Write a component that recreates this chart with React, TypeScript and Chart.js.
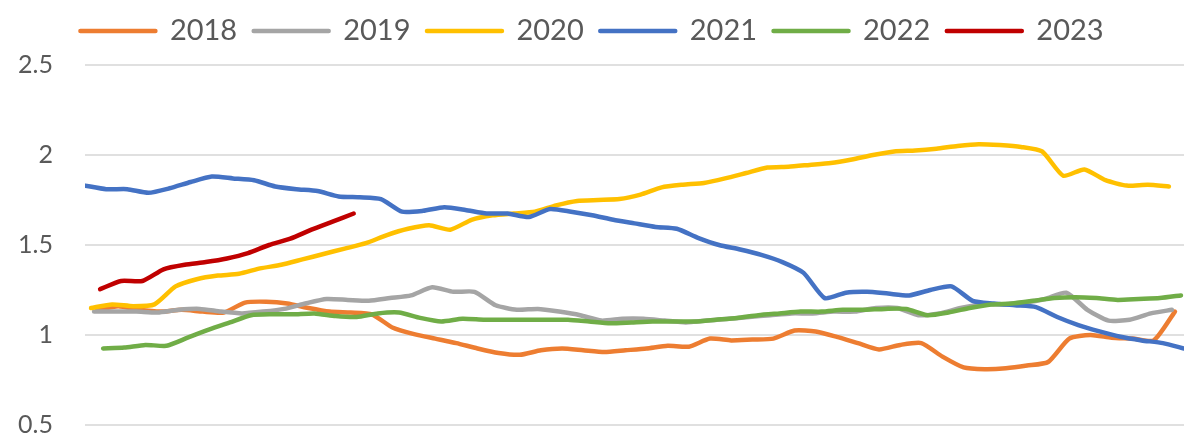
import React, { useEffect, useRef } from "react";
import { Chart, registerables } from "chart.js";

Chart.register(...registerables);

// Weekly (Friday) observations; x = day of year of each Friday
const years = ["2018", "2019", "2020", "2021", "2022", "2023"];
const firstFridayDay = [5, 4, 3, 1, 7, 6];

const y2018 = [
  1.14, 1.16, 1.14, 1.13, 1.14, 1.13, 1.125, 1.18, 1.185, 1.175, 1.15, 1.13, 1.125, 1.115,
  1.04, 1.005, 0.98, 0.955, 0.925, 0.9, 0.89, 0.915, 0.925, 0.915, 0.905, 0.915, 0.925, 0.94,
  0.935, 0.98, 0.97, 0.975, 0.98, 1.025, 1.02, 0.99, 0.955, 0.92, 0.945, 0.955, 0.88, 0.82, 0.81,
  0.815, 0.83, 0.85, 0.98, 1.0, 0.985, 0.98, 0.97, 1.13,
];
const y2019 = [
  1.13, 1.13, 1.13, 1.125, 1.14, 1.145, 1.13, 1.12, 1.13, 1.145, 1.175, 1.2, 1.195, 1.19,
  1.205, 1.22, 1.265, 1.24, 1.24, 1.165, 1.14, 1.145, 1.13, 1.11, 1.08, 1.09, 1.09, 1.08,
  1.07, 1.08, 1.09, 1.1, 1.11, 1.12, 1.12, 1.13, 1.13, 1.15, 1.15, 1.11, 1.12, 1.15, 1.17, 1.17, 1.18,
  1.2, 1.235, 1.14, 1.08, 1.085, 1.12, 1.14,
];
const y2020 = [
  1.15, 1.17, 1.16, 1.17, 1.27, 1.31, 1.33, 1.34, 1.37, 1.39, 1.42, 1.45, 1.48, 1.51,
  1.555, 1.59, 1.61, 1.585, 1.64, 1.665, 1.675, 1.685, 1.72, 1.745, 1.75, 1.755, 1.78, 1.82, 1.835,
  1.845, 1.87, 1.9, 1.93, 1.935, 1.945, 1.955, 1.975, 2.0, 2.02, 2.025, 2.035, 2.05, 2.06,
  2.055, 2.045, 2.02, 1.885, 1.92, 1.86, 1.83, 1.835, 1.825,
];
const y2021 = [
  1.83, 1.81, 1.81, 1.79, 1.815, 1.85, 1.88, 1.87, 1.86, 1.825, 1.81, 1.8, 1.77, 1.765,
  1.755, 1.685, 1.69, 1.71, 1.695, 1.675, 1.675, 1.655, 1.7, 1.685, 1.665, 1.64, 1.62, 1.6,
  1.59, 1.54, 1.5, 1.475, 1.445, 1.405, 1.345, 1.205, 1.235, 1.24, 1.23, 1.22, 1.25, 1.27,
  1.19, 1.175, 1.165, 1.155, 1.1, 1.055, 1.02, 0.99, 0.97, 0.955, 0.925,
];
const y2022 = [
  0.925, 0.93, 0.945, 0.94, 0.985, 1.03, 1.07, 1.11, 1.115, 1.115, 1.12, 1.105, 1.1, 1.12,
  1.125, 1.095, 1.075, 1.09, 1.085, 1.085, 1.085, 1.085, 1.085, 1.075, 1.065, 1.07, 1.075, 1.075,
  1.075, 1.085, 1.095, 1.11, 1.12, 1.13, 1.13, 1.14, 1.14, 1.145, 1.145, 1.11, 1.125, 1.15,
  1.17, 1.175, 1.19, 1.205, 1.21, 1.205, 1.195, 1.2, 1.205, 1.22,
];
const y2023 = [1.255, 1.3, 1.3, 1.365, 1.39, 1.405, 1.425, 1.455, 1.5, 1.535, 1.585, 1.63, 1.675];

const yTicks = [0.5, 1, 1.5, 2, 2.5];
const colors = ["#ED7D31", "#A5A5A5", "#FFC000", "#4472C4", "#70AD47", "#C00000"];

export default function App() {
  const ref = useRef<HTMLCanvasElement>(null);

  useEffect(() => {
    const series = [y2018, y2019, y2020, y2021, y2022, y2023];
    const datasets = years.map((yr, i) => ({
      label: yr,
      data: series[i].map((v, k) => ({ x: firstFridayDay[i] + 7 * k, y: v })),
      borderColor: colors[i],
      backgroundColor: colors[i],
      borderWidth: 4.5,
      pointRadius: 0,
      tension: 0.2,
      borderCapStyle: "round" as const,
      borderJoinStyle: "round" as const,
      order: years.length - i,
    }));

    const legendSpacer = {
      id: "legendSpacer",
      beforeInit(chart: any) {
        const orig = chart.legend.fit;
        chart.legend.fit = function () {
          orig.call(this);
          this.height += 9.5;
        };
      },
    };

    const chart = new Chart(ref.current!, {
      type: "line",
      data: { datasets },
      options: {
        responsive: false,
        animation: false,
        layout: { padding: 0 },
        plugins: {
          legend: {
            position: "top",
            labels: {
              boxWidth: 75,
              boxHeight: 0,
              padding: 16.5,
              color: "#595959",
              font: { family: "Lato", size: 29 },
              sort: (a: any, b: any) => a.datasetIndex - b.datasetIndex,
            },
          },
          tooltip: { enabled: false },
        },
        scales: {
          x: { type: "linear", min: 1, max: 365, display: false },
          y: {
            min: 0.5,
            max: 2.5,
            afterBuildTicks: (s: any) => {
              s.ticks = yTicks.map((v) => ({ value: v }));
            },
            afterFit: (s: any) => {
              s.width = 85;
            },
            ticks: {
              padding: 0,
              color: "#595959",
              font: { family: "Lato", size: 25, lineHeight: 0.96 },
              callback: (v: any) => String(v),
            },
            grid: {
              color: "#E0E0E0",
              lineWidth: 2,
              drawTicks: true,
              tickLength: 32,
              tickColor: "rgba(0,0,0,0)",
            },
            border: { display: false },
          },
        },
      },
      plugins: [legendSpacer],
    } as any);

    return () => chart.destroy();
  }, []);

  return (
    <div style={{ position: "absolute", left: 0, top: 0, width: 1184, height: 437, background: "#fff" }}>
      <canvas ref={ref} width={1184} height={437} style={{ display: "block" }} />
    </div>
  );
}
